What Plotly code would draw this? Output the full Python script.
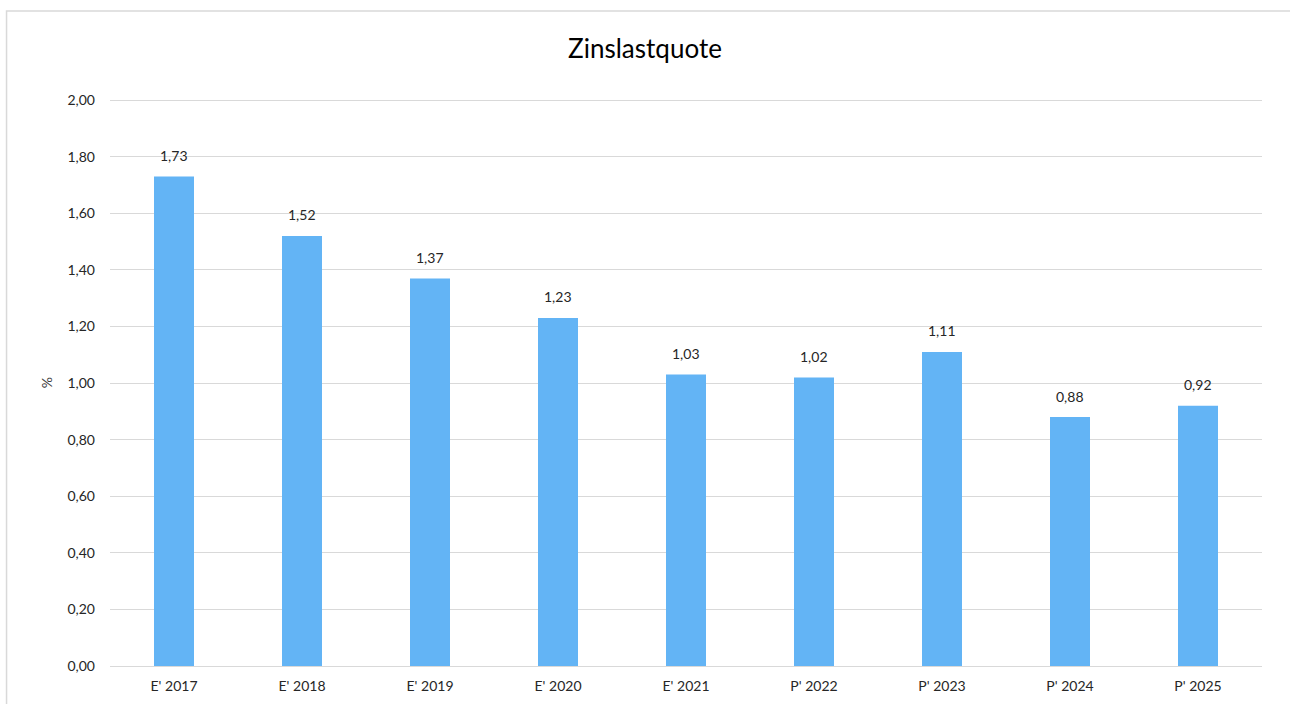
import plotly.graph_objects as go

categories = ["E' 2017", "E' 2018", "E' 2019", "E' 2020", "E' 2021",
              "P' 2022", "P' 2023", "P' 2024", "P' 2025"]
values = [1.73, 1.52, 1.37, 1.23, 1.03, 1.02, 1.11, 0.88, 0.92]

FONT = "Lato, 'Open Sans', sans-serif"

fig = go.Figure(go.Bar(
    x=categories,
    y=values,
    marker=dict(color="#63B4F5", line=dict(width=0)),
    width=0.3125,
    hoverinfo="x+y",
))

# data labels above the bars
for c, v in zip(categories, values):
    fig.add_annotation(
        x=c, y=v, yshift=21, showarrow=False,
        text=f"{v:.2f}".replace(".", ","),
        font=dict(family=FONT, size=14, color="#262626"),
    )

# chart border (light gray frame, open at the bottom/right like the crop)
fig.add_shape(
    type="rect", xref="paper", yref="paper",
    x0=-0.0898, x1=1.05, y0=-0.2, y1=1.155,
    line=dict(color="#d9d9d9", width=1.5), layer="below",
)

fig.update_layout(
    width=1290, height=704,
    paper_bgcolor="white", plot_bgcolor="white",
    margin=dict(l=110, r=28, t=99, b=38),
    separators=",.",
    showlegend=False,
    font=dict(family=FONT, size=14, color="#404040"),
    title=dict(text="Zinslastquote", x=0.5, xanchor="center",
               y=0.931, yanchor="middle",
               font=dict(family=FONT, size=26, color="#000000")),
    xaxis=dict(showgrid=False, showline=False, ticks="", ticklabelstandoff=10,
               automargin=False,
               tickfont=dict(family=FONT, size=14, color="#262626")),
    yaxis=dict(range=[0, 2.004], tickvals=[i / 5 for i in range(11)],
               tickformat=".2f", automargin=False,
               showgrid=True, gridcolor="#d9d9d9", gridwidth=1,
               zeroline=True, zerolinecolor="#d9d9d9", zerolinewidth=1,
               showline=False, ticks="", ticklabelstandoff=14,
               tickfont=dict(family=FONT, size=14, color="#262626"),
               title=dict(text="%", standoff=11,
                          font=dict(family=FONT, size=14, color="#404040"))),
)

fig.write_html("out.html", config={"displayModeBar": False},
               post_script="document.body.style.margin='0';")
